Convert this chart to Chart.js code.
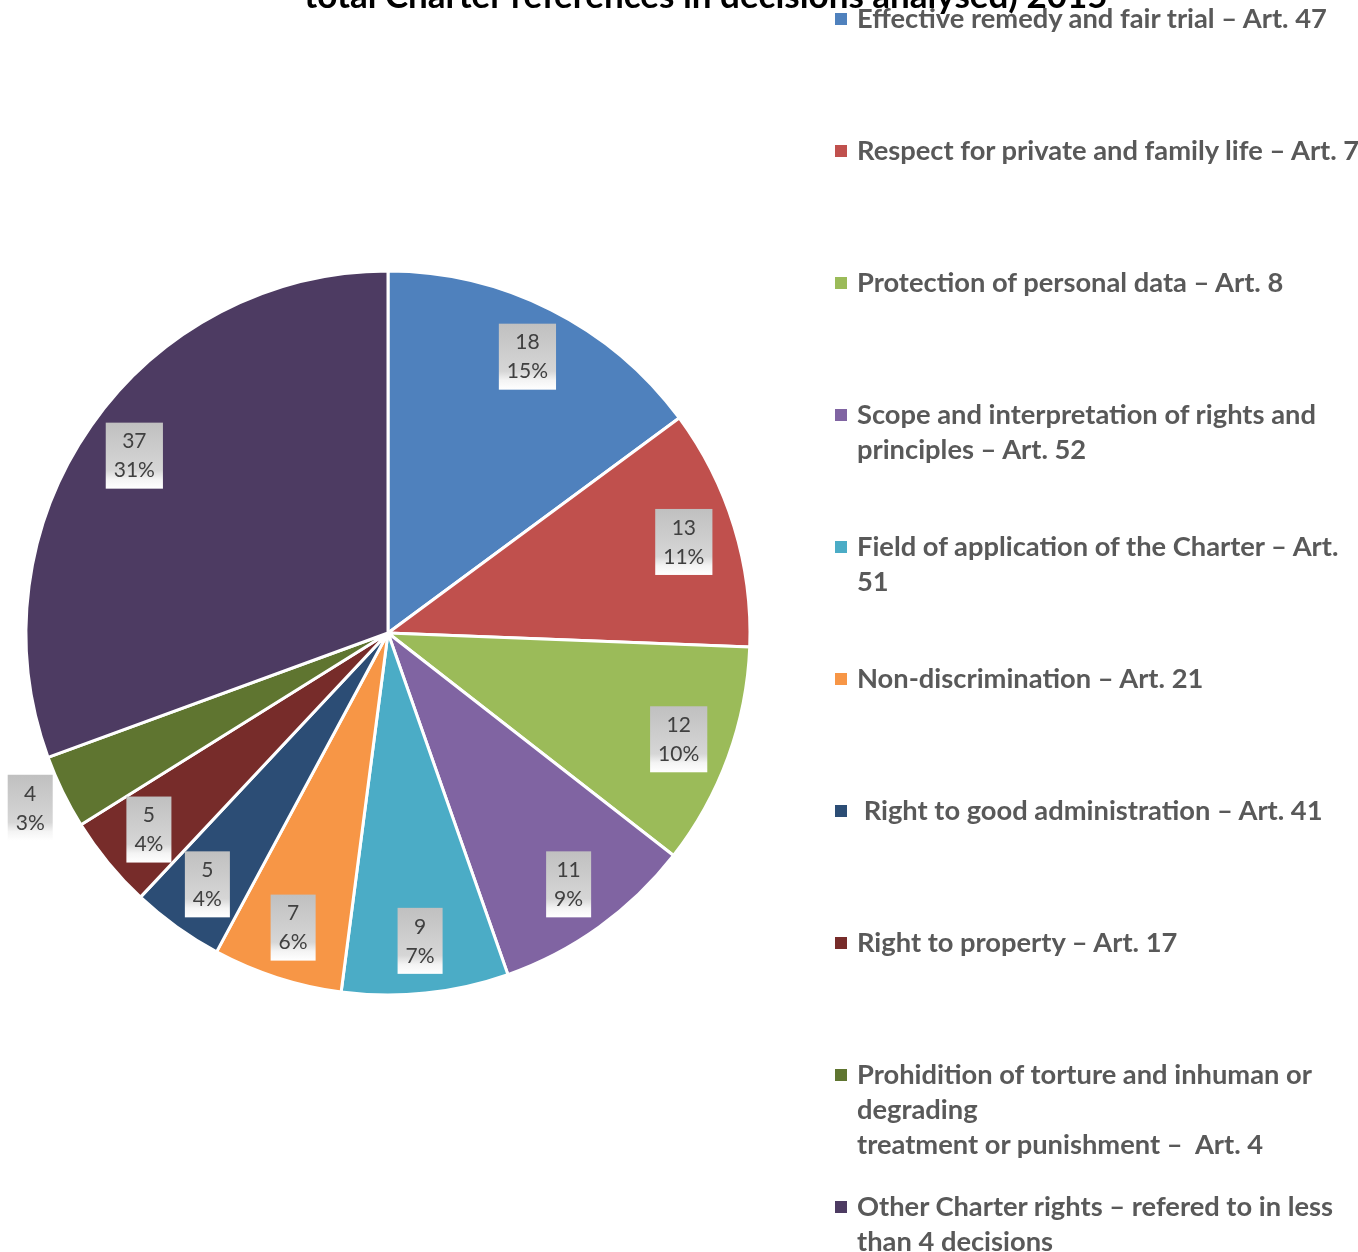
<!DOCTYPE html>
<html>
<head>
<meta charset="utf-8">
<script src="https://cdn.jsdelivr.net/npm/chart.js@4.4.1/dist/chart.umd.min.js"></script>
<style>
  html, body { margin: 0; padding: 0; background: #fff; overflow: hidden; }
  #wrap { position: relative; width: 1358px; height: 1252px; overflow: hidden; }
  #pie { position: absolute; left: 0; top: 0; }
  #title {
    position: absolute; left: 0; width: 1412px; top: -21px; text-align: center;
    font: bold 35px Lato, sans-serif; line-height: 30px; color: #000; white-space: nowrap;
  }
  .lg { position: absolute; left: 835px; font: bold 27.3px Lato, sans-serif; line-height: 35px;
        color: #595959; white-space: pre; }
  .lg i { position: absolute; left: 0; width: 12px; height: 12px; }
  .lg span { display: block; margin-left: 22px; }
</style>
</head>
<body>
<div id="wrap">
  <canvas id="pie" width="1358" height="1252"></canvas>
  <div id="title">total Charter references in decisions analysed) 2015</div>
  <div id="legend"></div>
</div>
<script>
/* Charter articles referred to, 2015 */

const categories = [
  ['Effective remedy and fair trial – Art. 47'],
  ['Respect for private and family life – Art. 7'],
  ['Protection of personal data – Art. 8'],
  ['Scope and interpretation of rights and', 'principles – Art. 52'],
  ['Field of application of the Charter – Art.', '51'],
  ['Non-discrimination – Art. 21'],
  [' Right to good administration – Art. 41'],
  ['Right to property – Art. 17'],
  ['Prohidition of torture and inhuman or', 'degrading', 'treatment or punishment –  Art. 4'],
  ['Other Charter rights – refered to in less', 'than 4 decisions'],
];
const counts = [18, 13, 12, 11, 9, 7, 5, 5, 4, 37];
const colors = ['#4F81BD', '#C0504D', '#9BBB59', '#8064A2', '#4BACC6',
                '#F79646', '#2C4D75', '#772C2A', '#5F7530', '#4D3B62'];

const total = counts.reduce((a, b) => a + b, 0);

/* legend, one row every 132px like the original */
const lg = document.getElementById('legend');
categories.forEach((lines, i) => {
  const d = document.createElement('div');
  d.className = 'lg';
  d.style.top = (132 * i) + 'px';
  d.innerHTML = `<i style="background:${colors[i]};top:13px"></i><span>${lines.join('\n')}</span>`;
  lg.appendChild(d);
});

/* value + percent boxes with the grey gradient fill */
const boxLabels = {
  id: 'boxLabels',
  afterDatasetsDraw(chart) {
    const ctx = chart.ctx;
    const meta = chart.getDatasetMeta(0);
    ctx.save();
    ctx.font = '21px Lato, sans-serif';
    ctx.textAlign = 'center';
    ctx.textBaseline = 'middle';
    meta.data.forEach((arc, i) => {
      const p = arc.getProps(['x', 'y', 'startAngle', 'endAngle', 'outerRadius'], true);
      const mid = (p.startAngle + p.endAngle) / 2;
      const f = counts[i] < 5 ? 1.1 : 0.855;
      const cx = p.x + Math.cos(mid) * p.outerRadius * f;
      const cy = p.y + Math.sin(mid) * p.outerRadius * f;
      const l1 = String(counts[i]);
      const l2 = Math.round(counts[i] / total * 100) + '%';
      const w = Math.max(ctx.measureText(l1).width, ctx.measureText(l2).width) + 16;
      const h = 66;
      const g = ctx.createLinearGradient(0, cy - h / 2, 0, cy + h / 2);
      g.addColorStop(0, '#c0c0c0');
      g.addColorStop(0.72, '#d6d6d6');
      g.addColorStop(0.86, '#f4f4f4');
      g.addColorStop(1, '#ffffff');
      ctx.fillStyle = g;
      ctx.fillRect(cx - w / 2, cy - h / 2, w, h);
      ctx.fillStyle = '#404040';
      ctx.fillText(l1, cx, cy - 14);
      ctx.fillText(l2, cx, cy + 15);
    });
    ctx.restore();
  }
};

new Chart(document.getElementById('pie'), {
  type: 'pie',
  data: {
    labels: categories.map(l => l.join(' ')),
    datasets: [{ data: counts, backgroundColor: colors, borderColor: '#ffffff', borderWidth: 3 }],
  },
  options: {
    responsive: false,
    animation: false,
    radius: 362,
    layout: { padding: { left: 0, right: 582, top: 14, bottom: 0 } },
    plugins: { legend: { display: false }, title: { display: false }, tooltip: { enabled: false } },
  },
  plugins: [boxLabels],
});
</script>
</body>
</html>
